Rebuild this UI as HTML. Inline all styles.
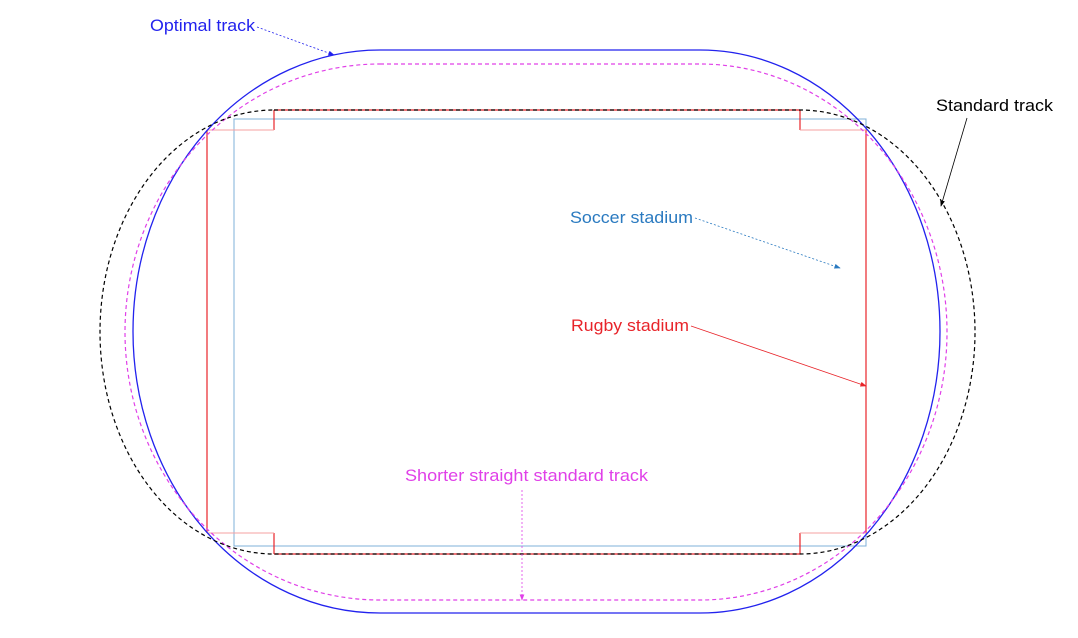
<!DOCTYPE html>
<html><head><style>
html,body{margin:0;padding:0;background:#fff;}
svg{display:block;}
text{font-family:"Liberation Sans",sans-serif;font-size:17px;}
</style></head><body>
<svg width="1078" height="638" viewBox="0 0 1078 638" xmlns="http://www.w3.org/2000/svg">
<defs>
<marker id="ab" markerWidth="8" markerHeight="6" refX="7" refY="3" orient="auto"><path d="M0,0 L8,3 L0,6z" fill="#2222ee"/></marker>
<marker id="ak" markerWidth="8" markerHeight="6" refX="7" refY="3" orient="auto"><path d="M0,0 L8,3 L0,6z" fill="#000"/></marker>
<marker id="as" markerWidth="8" markerHeight="6" refX="7" refY="3" orient="auto"><path d="M0,0 L8,3 L0,6z" fill="#2a7ac0"/></marker>
<marker id="ar" markerWidth="8" markerHeight="6" refX="7" refY="3" orient="auto"><path d="M0,0 L8,3 L0,6z" fill="#e8242a"/></marker>
<marker id="am" markerWidth="8" markerHeight="6" refX="7" refY="3" orient="auto"><path d="M0,0 L8,3 L0,6z" fill="#e040e8"/></marker>
</defs>
<rect x="234" y="119" width="632" height="427" fill="none" stroke="#7fb0d8" stroke-width="1"/>
<path d="M207,130 V533 M866,130 V533 M274,110 H800 M274,554 H800 M274,110 V130 M800,110 V130 M274,533 V554 M800,533 V554" stroke="#e8242a" stroke-width="1.2" fill="none"/>
<path d="M207,130 H274 M800,130 H866 M207,533 H274 M800,533 H866" stroke="#f4a0a0" stroke-width="1" fill="none"/>
<path d="M380,50 H700 A240,281.5 0 0 1 700,613 H380 A247,281.5 0 0 1 380,50 Z" fill="none" stroke="#2222ee" stroke-width="1.3"/>
<path d="M380,64 H700 A247,268 0 0 1 700,600 H380 A255,268 0 0 1 380,64 Z" fill="none" stroke="#e040e8" stroke-width="1.2" stroke-dasharray="4,3"/>
<path d="M274,110 H800 A175,222 0 0 1 800,554 H274 A174,222 0 0 1 274,110 Z" fill="none" stroke="#000" stroke-width="1.2" stroke-dasharray="4,3"/>
<text x="150" y="31" fill="#2222ee" textLength="105" lengthAdjust="spacingAndGlyphs">Optimal track</text>
<line x1="257" y1="27" x2="334" y2="55" stroke="#2222ee" stroke-width="0.8" stroke-dasharray="2,2" marker-end="url(#ab)"/>
<text x="936" y="111" fill="#000" textLength="117" lengthAdjust="spacingAndGlyphs">Standard track</text>
<line x1="967" y1="118" x2="941" y2="206" stroke="#000" stroke-width="0.8" marker-end="url(#ak)"/>
<text x="570" y="223" fill="#2a7ac0" textLength="123" lengthAdjust="spacingAndGlyphs">Soccer stadium</text>
<line x1="695" y1="218" x2="840" y2="268" stroke="#2a7ac0" stroke-width="0.8" stroke-dasharray="2,2" marker-end="url(#as)"/>
<text x="571" y="331" fill="#e8242a" textLength="118" lengthAdjust="spacingAndGlyphs">Rugby stadium</text>
<line x1="691" y1="326" x2="866" y2="386" stroke="#e8242a" stroke-width="0.8" marker-end="url(#ar)"/>
<text x="405" y="481" fill="#e040e8" textLength="243" lengthAdjust="spacingAndGlyphs">Shorter straight standard track</text>
<line x1="522" y1="490" x2="522" y2="600" stroke="#e040e8" stroke-width="0.8" stroke-dasharray="2,2" marker-end="url(#am)"/>
</svg>
</body></html>
